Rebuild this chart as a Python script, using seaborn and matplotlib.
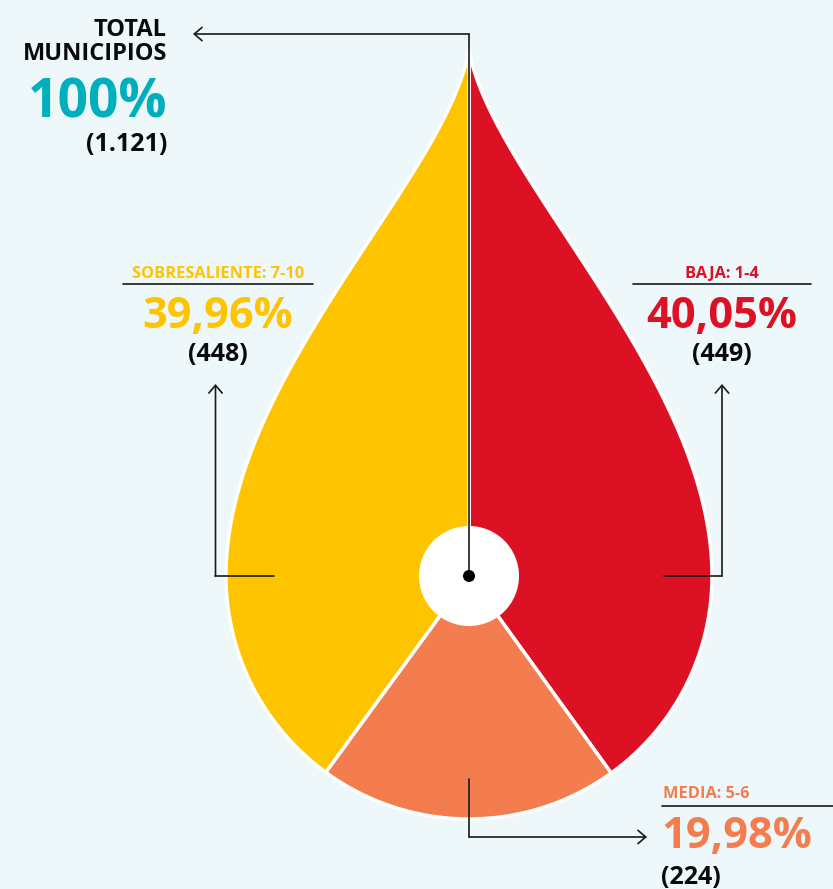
import numpy as np
import matplotlib
matplotlib.use("Agg")
import matplotlib.pyplot as plt
from matplotlib.patches import Polygon, Circle
from matplotlib.path import Path
import seaborn as sns

# datos
categorias = ['BAJA: 1-4', 'MEDIA: 5-6', 'SOBRESALIENTE: 7-10']
municipios = [449, 224, 448]
porcentajes = ['40,05%', '19,98%', '39,96%']
total_municipios = '(1.121)'
total_pct = '100%'

fondo = '#EEF8FA'
colores = sns.color_palette(['#DC1224', '#F47D50', '#FFC400'])
teal = '#00AFBE'

sns.set_theme(style='white', rc={'axes.facecolor': fondo, 'figure.facecolor': fondo})
plt.rcParams['font.family'] = ['Open Sans', 'DejaVu Sans']

fig = plt.figure(figsize=(8.33, 8.89), dpi=100)
ax = fig.add_axes([0, 0, 1, 1])

cx, cy, r = 469, 576, 243

# pie grande, recortado con la forma de gota
wedges, _ = ax.pie(municipios, colors=colores, startangle=-90, counterclock=True,
                   center=(cx, cy), radius=650,
                   wedgeprops=dict(edgecolor='white', linewidth=2.5))

ax.set_xlim(0, 833)
ax.set_ylim(889, 0)
ax.set_aspect('auto')
ax.axis('off')

# forma de gota (coordenadas con y hacia arriba relativas al centro)
t = np.linspace(0, 1, 120)
P0 = np.array([0, 527]); P1 = np.array([-20, 400])
P2 = np.array([-r, 200]); P3 = np.array([-r, 0])
bez = ((1-t)**3)[:, None]*P0 + (3*(1-t)**2*t)[:, None]*P1 + \
      (3*(1-t)*t**2)[:, None]*P2 + (t**3)[:, None]*P3
ang = np.linspace(np.pi, 2*np.pi, 200)
arco = np.column_stack([r*np.cos(ang), r*np.sin(ang)])
der = bez[::-1] * np.array([-1, 1])
gota = np.vstack([bez, arco, der])
gota_px = np.column_stack([cx + gota[:, 0], cy - gota[:, 1]])

camino = Path(np.vstack([gota_px, gota_px[:1]]), closed=True)
for w in wedges:
    w.set_clip_on(True)
    w.set_clip_path(camino, ax.transData)

borde = Polygon(gota_px, closed=True, facecolor='none', edgecolor='white',
                linewidth=2.5, zorder=3)
ax.add_patch(borde)

ax.add_patch(Circle((cx, cy), 50, facecolor='white', edgecolor='none', zorder=4))
ax.add_patch(Circle((cx, cy), 6, facecolor='black', edgecolor='none', zorder=6))

lc = '#1a1a1a'
lw = 1.2
negro = '#0a0a0a'
flecha = dict(arrowstyle='->,head_length=0.35,head_width=0.3', lw=lw, color=lc,
              shrinkA=0, shrinkB=0, mutation_scale=16)

# total
ax.plot([cx, cx], [cy, 34], color=lc, lw=lw, zorder=5)
ax.annotate('', xy=(193, 34), xytext=(cx, 34), arrowprops=flecha, zorder=5)
ax.text(167, 36, 'TOTAL', ha='right', va='baseline', fontsize=17, fontweight='bold', color=negro)
ax.text(167, 60, 'MUNICIPIOS', ha='right', va='baseline', fontsize=17, fontweight='bold', color=negro)
ax.text(167, 117, total_pct, ha='right', va='baseline', fontsize=38.5, fontweight='bold', color=teal)
ax.text(167, 151, total_municipios, ha='right', va='baseline', fontsize=18, fontweight='bold', color=negro)

# sobresaliente
ax.plot([274, 215.5], [576, 576], color=lc, lw=lw, zorder=5)
ax.annotate('', xy=(215.5, 384), xytext=(215.5, 576), arrowprops=flecha, zorder=5)
ax.plot([123, 313], [284, 284], color=lc, lw=lw)
ax.text(218, 278, categorias[2], ha='center', va='baseline', fontsize=11.8, fontweight='bold', color=colores[2])
ax.text(218, 328, porcentajes[2], ha='center', va='baseline', fontsize=31.2, fontweight='bold', color=colores[2])
ax.text(218, 361, '(%d)' % municipios[2], ha='center', va='baseline', fontsize=18, fontweight='bold', color=negro)

# baja
ax.plot([664, 722], [576, 576], color=lc, lw=lw, zorder=5)
ax.annotate('', xy=(722, 384), xytext=(722, 576), arrowprops=flecha, zorder=5)
ax.plot([633, 811], [284, 284], color=lc, lw=lw)
ax.text(722, 278, categorias[0], ha='center', va='baseline', fontsize=11.8, fontweight='bold', color=colores[0])
ax.text(722, 328, porcentajes[0], ha='center', va='baseline', fontsize=31.2, fontweight='bold', color=colores[0])
ax.text(722, 361, '(%d)' % municipios[0], ha='center', va='baseline', fontsize=18, fontweight='bold', color=negro)

# media
ax.plot([cx, cx], [779, 837], color=lc, lw=lw, zorder=5)
ax.annotate('', xy=(647, 837), xytext=(cx, 837), arrowprops=flecha, zorder=5)
ax.plot([662, 833], [806, 806], color=lc, lw=lw)
ax.text(663, 798, categorias[1], ha='left', va='baseline', fontsize=11.8, fontweight='bold', color=colores[1])
ax.text(661, 848, porcentajes[1], ha='left', va='baseline', fontsize=31.2, fontweight='bold', color=colores[1])
ax.text(661, 884, '(%d)' % municipios[1], ha='left', va='baseline', fontsize=18, fontweight='bold', color=negro)

fig.savefig('out.png', dpi=100, facecolor=fondo)
